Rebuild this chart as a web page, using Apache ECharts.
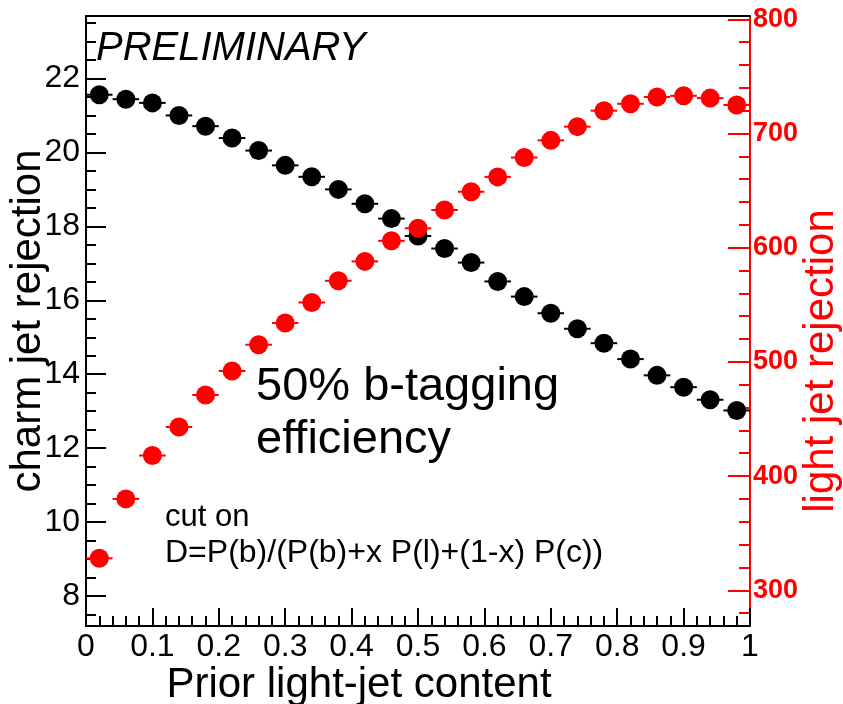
<!DOCTYPE html>
<html>
<head>
<meta charset="utf-8">
<script src="https://cdn.jsdelivr.net/npm/echarts@6/dist/echarts.min.js"></script>
<style>html,body{margin:0;padding:0;background:#fff}#c{width:843px;height:704px}</style>
</head>
<body>
<div id="c"></div>
<script>
// ---- data ----
const xVals = [0.02,0.06,0.10,0.14,0.18,0.22,0.26,0.30,0.34,0.38,0.42,0.46,0.50,0.54,0.58,0.62,0.66,0.70,0.74,0.78,0.82,0.86,0.90,0.94,0.98];
const xHalfWidth = 0.02;
const charmRej = [21.56,21.44,21.34,21.0,20.71,20.39,20.05,19.65,19.34,19.0,18.61,18.21,17.74,17.4,17.02,16.51,16.1,15.65,15.23,14.84,14.41,13.97,13.65,13.31,13.02];
const lightRej = [328,380,418,443,471,492,515,534,552,571,588,606,617,633,649,662,679,694,706,720,726,732,733,731,725];
const leftTicks = [8,10,12,14,16,18,20,22];
const leftMinor = [7.5,8.5,9,9.5,10.5,11,11.5,12.5,13,13.5,14.5,15,15.5,16.5,17,17.5,18.5,19,19.5,20.5,21,21.5,22.5,23,23.5];
const rightTicks = [300,400,500,600,700,800];
const rightMinor = [280,320,340,360,380,420,440,460,480,520,540,560,580,620,640,660,680,720,740,760,780];

const FONT = "'Liberation Sans', Arial, Helvetica, sans-serif";
const chart = echarts.init(document.getElementById('c'), null, {renderer: 'canvas'});

function errBar(color, yIdx) {
  return {
    type: 'custom', yAxisIndex: yIdx, xAxisIndex: 0, z: 3,
    data: xVals.map((x, i) => [x, yIdx === 0 ? charmRej[i] : lightRej[i]]),
    renderItem: function (params, api) {
      const x = api.value(0), y = api.value(1);
      const p1 = api.coord([x - xHalfWidth, y]);
      const p2 = api.coord([x + xHalfWidth, y]);
      return {type: 'line', shape: {x1: p1[0], y1: p1[1], x2: p2[0], y2: p2[1]},
        style: {stroke: color, lineWidth: 2}};
    }
  };
}

const option = {
  animation: false,
  backgroundColor: '#fff',
  grid: {left: 86, right: 93, top: 16, bottom: 78, containLabel: false, outerBoundsMode: 'none'},
  xAxis: [{
    type: 'value', min: 0, max: 1, interval: 0.1, position: 'bottom',
    axisLine: {show: true, lineStyle: {color: '#000', width: 2}},
    axisTick: {show: true, inside: true, length: 18, lineStyle: {color: '#000', width: 2}},
    minorTick: {show: true, splitNumber: 5, length: 10, lineStyle: {color: '#000', width: 2}},
    axisLabel: {fontSize: 32, fontFamily: FONT, color: '#000', margin: 5},
    splitLine: {show: false}, minorSplitLine: {show: false},
    name: 'Prior light-jet content', nameLocation: 'middle', nameGap: 38, nameMoveOverlap: false,
    nameTextStyle: {fontSize: 42, fontFamily: FONT, color: '#000', padding: [0, 118, 0, 0]}
  }, {
    type: 'value', min: 0, max: 1, position: 'top',
    axisLine: {show: true, lineStyle: {color: '#000', width: 2}},
    axisTick: {show: false}, axisLabel: {show: false}, splitLine: {show: false}
  }],
  yAxis: [{
    type: 'value', min: 7.19, max: 23.69, position: 'left',
    axisLine: {show: true, lineStyle: {color: '#000', width: 2}},
    axisTick: {show: true, inside: true, length: 20, customValues: leftTicks, lineStyle: {color: '#000', width: 2}},
    axisLabel: {customValues: leftTicks, fontSize: 32, fontFamily: FONT, color: '#000', margin: 6},
    splitLine: {show: false},
    name: 'charm jet rejection', nameLocation: 'middle', nameRotate: 90, nameGap: 37, nameMoveOverlap: false,
    nameTextStyle: {fontSize: 42, fontFamily: FONT, color: '#000'}
  }, {
    type: 'value', min: 7.19, max: 23.69, position: 'left',
    axisLine: {show: false},
    axisTick: {show: true, inside: true, length: 10, customValues: leftMinor, lineStyle: {color: '#000', width: 2}},
    axisLabel: {show: false}, splitLine: {show: false}
  }, {
    type: 'value', min: 268.7, max: 802.9, position: 'right',
    axisLine: {show: true, lineStyle: {color: '#ff0000', width: 2}},
    axisTick: {show: true, inside: true, length: 22, customValues: rightTicks, lineStyle: {color: '#ff0000', width: 2}},
    axisLabel: {customValues: rightTicks, fontSize: 27, fontWeight: 'bold', fontFamily: FONT, color: '#ff0000', margin: 3},
    splitLine: {show: false},
    name: 'light jet rejection', nameLocation: 'middle', nameRotate: 90, nameGap: 50, nameMoveOverlap: false,
    nameTextStyle: {fontSize: 42, fontFamily: FONT, color: '#ff0000', padding: [0, 80, 0, 0]}
  }, {
    type: 'value', min: 268.7, max: 802.9, position: 'right',
    axisLine: {show: false},
    axisTick: {show: true, inside: true, length: 11, customValues: rightMinor, lineStyle: {color: '#ff0000', width: 2}},
    axisLabel: {show: false}, splitLine: {show: false}
  }],
  series: [
    errBar('#000', 0),
    {type: 'scatter', yAxisIndex: 0, z: 4, symbol: 'circle', symbolSize: 19,
     itemStyle: {color: '#000', opacity: 1}, data: xVals.map((x, i) => [x, charmRej[i]])},
    errBar('#ff0000', 2),
    {type: 'scatter', yAxisIndex: 2, z: 5, symbol: 'circle', symbolSize: 19,
     itemStyle: {color: '#ff0000', opacity: 1}, data: xVals.map((x, i) => [x, lightRej[i]])}
  ],
  graphic: [
    {type: 'text', z: 10, style: {text: 'PRELIMINARY', x: 96, y: 49, font: 'italic 40px ' + FONT, fill: '#000', textAlign: 'left', textVerticalAlign: 'middle'}},
    {type: 'text', z: 10, style: {text: '50% b-tagging', x: 256, y: 387, font: '47px ' + FONT, fill: '#000', textAlign: 'left', textVerticalAlign: 'middle'}},
    {type: 'text', z: 10, style: {text: 'efficiency', x: 256, y: 440, font: '47px ' + FONT, fill: '#000', textAlign: 'left', textVerticalAlign: 'middle'}},
    {type: 'text', z: 10, style: {text: 'cut on', x: 165, y: 517, font: '31px ' + FONT, fill: '#000', textAlign: 'left', textVerticalAlign: 'middle'}},
    {type: 'text', z: 10, style: {text: 'D=P(b)/(P(b)+x P(l)+(1-x) P(c))', x: 165, y: 553, font: '32px ' + FONT, fill: '#000', textAlign: 'left', textVerticalAlign: 'middle'}}
  ]
};
chart.setOption(option);
</script>
</body>
</html>
